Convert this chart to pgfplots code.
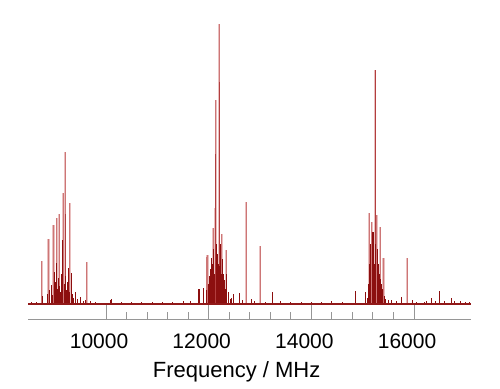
\documentclass[border=0pt]{standalone}
\usepackage{pgfplots}
\pgfplotsset{compat=1.18}
\usepackage{pgfplotstable}
\usepackage{fontspec}
\setmainfont{Liberation Sans}
\definecolor{faint}{RGB}{234,192,192}
\definecolor{core}{RGB}{205,118,118}
\definecolor{medred}{RGB}{178,62,62}
\definecolor{densered}{RGB}{140,15,15}
\definecolor{basered}{RGB}{145,25,25}
\definecolor{axgray}{RGB}{150,150,150}

\pgfplotstableread{
f h
8747 43
8876 65
8973 79
9040 86
9084 90
9168 111
9201 152
9293 101
9624 42
11962 47
11973 49
12090 76
12123 96
12137 204
12201 280
12254 70
12338 54
12727 102
13000 58
15123 91
15176 82
15240 234
15273 89
15338 77
15402 46
15863 46
}\tall

\pgfplotstableread{
f h
12207 222
15240 234
12137 150
9201 90
}\medium

\pgfplotstableread{
f h
8550 2
8650 2
8760 8
8860 10
8890 14
8929 19
8950 9
8987 32
9005 12
9020 22
9035 41
9055 15
9070 26
9100 18
9115 12
9130 30
9145 10
9160 64
9185 20
9215 28
9230 14
9250 22
9266 36
9280 12
9318 31
9340 10
9370 6
9396 12
9450 5
9507 7
9560 3
9600 4
9700 3
9800 2
10078 4
10111 5
10300 2
10500 2
10700 2
10900 2
11100 2
11300 2
11500 3
11650 3
11798 15
11817 15
11895 16
11948 14
11990 20
12010 28
12030 35
12045 22
12059 46
12075 40
12100 55
12110 30
12150 60
12165 45
12180 50
12190 40
12220 38
12235 60
12245 30
12270 45
12285 30
12299 24
12315 20
12330 15
12355 30
12380 12
12416 5
12450 6
12493 10
12591 11
12650 4
12838 5
12900 3
13100 2
13240 12
13400 3
13600 2
13800 2
14000 2
14200 2
14400 3
14600 2
14860 13
15045 12
15090 6
15110 20
15140 40
15155 60
15190 72
15207 72
15220 50
15230 40
15255 60
15290 55
15305 40
15320 30
15355 25
15370 20
15390 15
15420 8
15450 5
15500 4
15565 4
15650 3
15760 7
15961 4
16050 2
16195 2
16250 3
16345 6
16420 3
16506 13
16600 3
16721 6
16798 3
16900 3
17000 2
17080 2
}\dense

\begin{document}
\begin{tikzpicture}
\begin{axis}[name=ax, scale only axis, width=443pt, height=315pt,
  xmin=8480, xmax=17110, ymin=-15, ymax=300,
  axis x line=bottom, axis y line=none,
  x axis line style={-, draw=axgray, line width=1pt},
  scaled x ticks=false,
  xtick={10000,12000,14000,16000},
  xticklabels={10000,12000,14000,16000},
  minor x tick num=4,
  xtick align=inside, major tick length=14pt, minor tick length=7pt,
  tick style={axgray, line width=1pt},
  xticklabel style={font=\fontsize{21}{25}\selectfont, anchor=base, yshift=-29pt, xshift=-7pt},
  xlabel={Frequency / MHz},
  xlabel style={font=\fontsize{22}{26}\selectfont, at={(rel axis cs:0.471,0)}, anchor=base, yshift=-58pt},
]
\addplot[ycomb, draw=faint, line width=2.4pt, mark=none] table[x=f,y=h] {\tall};
\addplot[ycomb, draw=core, line width=0.7pt, mark=none] table[x=f,y=h] {\tall};
\addplot[ycomb, draw=medred, line width=1pt, mark=none] table[x=f,y=h] {\medium};
\addplot[ycomb, draw=densered, line width=1pt, mark=none] table[x=f,y=h] {\dense};
\addplot[basered, line width=2.6pt, mark=none] coordinates {(8480,0) (17110,0)};
\end{axis}
\path ([xshift=-28pt,yshift=-69pt]ax.south west) rectangle ([xshift=29pt,yshift=4pt]ax.north east);
\end{tikzpicture}
\end{document}
